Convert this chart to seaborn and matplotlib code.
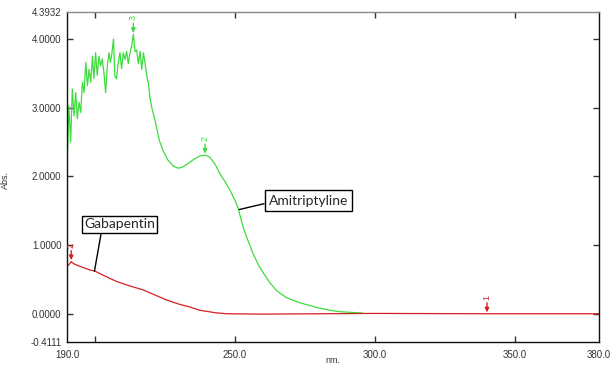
import matplotlib
matplotlib.use("Agg")
import matplotlib.pyplot as plt
import seaborn as sns
import pandas as pd
from matplotlib.ticker import FixedLocator, NullFormatter, FixedFormatter

# ---------------- data ----------------
ami_nm = [190.0, 190.1, 190.7, 191.3, 191.9, 192.5, 193.1, 193.7, 194.3, 194.9,
          195.5, 196.1, 196.7, 197.3, 197.9, 198.5, 199.1, 199.6, 200.2, 200.8,
          201.4, 202.0, 202.6, 203.2, 203.8, 204.4, 205.0, 205.5, 206.0, 206.6,
          207.1, 207.7, 208.3, 208.9, 209.5, 210.1, 210.7, 211.3, 211.9, 212.5,
          213.1, 213.7, 214.3, 214.9, 215.5, 216.1, 216.7, 217.3, 217.9, 218.5,
          219.1, 219.6, 220.3, 221.4, 223.0, 224.5, 226.0, 228.0, 229.6,
          231.0, 233.0, 235.0, 237.5, 239.5, 241.0, 243.0, 244.6, 246.5, 248.2,
          250.0, 251.1, 252.9, 254.5, 256.4, 258.5, 260.5, 262.5, 265.0, 268.6,
          273.2, 279.3, 284.0, 287.5, 291.5, 295.7]
ami_abs = [3.39, 2.26, 3.03, 2.50, 3.27, 2.88, 3.22, 2.84, 3.08, 2.93,
           3.37, 3.22, 3.66, 3.32, 3.56, 3.37, 3.75, 3.42, 3.80, 3.47,
           3.75, 3.61, 3.71, 3.51, 3.22, 3.61, 3.80, 3.66, 3.78, 4.00,
           3.46, 3.42, 3.66, 3.80, 3.57, 3.80, 3.70, 3.82, 3.64, 3.80,
           3.90, 4.07, 3.82, 3.84, 3.64, 3.82, 3.56, 3.80, 3.64, 3.46,
           3.35, 3.15, 3.00, 2.82, 2.52, 2.36, 2.24, 2.15, 2.12,
           2.13, 2.18, 2.24, 2.30, 2.31, 2.28, 2.17, 2.04, 1.92, 1.80,
           1.65, 1.54, 1.26, 1.08, 0.88, 0.70, 0.57, 0.45, 0.33, 0.23,
           0.16, 0.09, 0.05, 0.03, 0.02, 0.01]

gaba_nm = [190.0, 190.8, 191.5, 192.3, 194.0, 196.0, 198.0, 200.0, 204.0, 207.7,
           212.0, 217.0, 221.0, 225.6, 230.0, 234.0, 237.5, 240.0, 243.0, 247.0,
           260.0, 280.0, 300.0, 340.0, 380.0]
gaba_abs = [0.69, 0.72, 0.76, 0.73, 0.70, 0.67, 0.64, 0.62, 0.54, 0.47,
            0.41, 0.35, 0.28, 0.20, 0.14, 0.097, 0.05, 0.034, 0.015, 0.0,
            -0.005, 0.0, 0.005, 0.0, 0.0]

# peak picks (wavelength, absorbance, label, series)
peak_nm = [213.7, 239.3, 191.5, 340.0]
peak_abs = [4.07, 2.31, 0.76, 0.0]
peak_lbl = ["3", "2", "2", "1"]
peak_series = ["Amitriptyline", "Amitriptyline", "Gabapentin", "Gabapentin"]

x_tick_marks = [200, 250, 300, 350]
x_tick_labels = [190.0, 250.0, 300.0, 350.0, 380.0]
y_tick_marks = [0, 1, 2, 3, 4]
y_label_vals = [-0.4111, 0.0, 1.0, 2.0, 3.0, 4.0, 4.3932]

xmin, xmax = 190.0, 380.0
ymin, ymax = -0.4111, 4.3932

colors = {"Amitriptyline": "#3ddc3d", "Gabapentin": "#d42020"}

df = pd.concat([
    pd.DataFrame({"nm": ami_nm, "abs": ami_abs, "series": "Amitriptyline"}),
    pd.DataFrame({"nm": gaba_nm, "abs": gaba_abs, "series": "Gabapentin"}),
])

# ---------------- plot ----------------
sns.set_style("white")
plt.rcParams["font.family"] = ["Liberation Sans", "DejaVu Sans"]

fig = plt.figure(figsize=(6.16, 3.68), dpi=100)
ax = fig.add_axes([67 / 616, 26 / 368, 532 / 616, 330 / 368])

sns.lineplot(data=df, x="nm", y="abs", hue="series", palette=colors,
             sort=False, estimator=None, linewidth=0.9, ax=ax, legend=False)

ax.set_xlim(xmin, xmax)
ax.set_ylim(ymin, ymax)

# spines
for s in ["left", "bottom", "right"]:
    ax.spines[s].set_color("#111111")
    ax.spines[s].set_linewidth(1.0)
ax.spines["top"].set_color("#888888")
ax.spines["top"].set_linewidth(1.0)

ax.xaxis.remove_overlapping_locs = False
ax.yaxis.remove_overlapping_locs = False

# x ticks: marks at 200..350 (top & bottom), labels at 190,250,...,380
ax.xaxis.set_major_locator(FixedLocator(x_tick_marks))
ax.xaxis.set_major_formatter(NullFormatter())
ax.xaxis.set_minor_locator(FixedLocator(x_tick_labels))
ax.xaxis.set_minor_formatter(FixedFormatter([f"{v:.1f}" for v in x_tick_labels]))
ax.tick_params(axis="x", which="major", direction="in", length=4, width=1,
               top=True, bottom=True, color="#333333")
ax.tick_params(axis="x", which="minor", length=0, pad=6, labelsize=7,
               labelcolor="#333333")

# y ticks
ax.yaxis.set_major_locator(FixedLocator(y_tick_marks))
ax.yaxis.set_major_formatter(NullFormatter())
ax.yaxis.set_minor_locator(FixedLocator(y_label_vals))
ax.yaxis.set_minor_formatter(FixedFormatter([f"{v:.4f}" for v in y_label_vals]))
ax.tick_params(axis="y", which="major", direction="in", length=4, width=1,
               left=True, right=True, color="#333333")
ax.tick_params(axis="y", which="minor", length=0, pad=4, labelsize=7,
               labelcolor="#333333")

ax.set_xlabel("nm.", fontsize=6.5, color="#333333")
ax.set_ylabel("Abs.", fontsize=6.5, color="#333333")
ax.xaxis.set_label_coords(0.5, -0.042)
ax.yaxis.set_label_coords(-0.108, 0.49)

# peak picks
for px, py, lb, sr in zip(peak_nm, peak_abs, peak_lbl, peak_series):
    c = colors[sr]
    ax.annotate("", xy=(px, py + 0.02), xytext=(px, py + 0.16),
                arrowprops=dict(arrowstyle="-|>,head_length=0.25,head_width=0.12",
                                color=c, lw=1.0, shrinkA=0, shrinkB=0))
    ax.text(px, py + 0.2, lb, color=c, fontsize=6.5, rotation=90,
            ha="center", va="bottom")

# callout labels
box = dict(boxstyle="square,pad=0.15", fc="white", ec="black", lw=1.0)
ax.annotate("Gabapentin", xy=(199.8, 0.62), xytext=(208.7, 1.30),
            fontsize=10, family=["Lato", "DejaVu Sans"], ha="center", va="center",
            bbox=box,
            arrowprops=dict(arrowstyle="-", color="black", lw=1.0,
                            relpos=(0.25, 0.0), shrinkA=0, shrinkB=0))
box2 = dict(boxstyle="square,pad=0.3", fc="white", ec="black", lw=1.0)
ax.annotate("Amitriptyline", xy=(251.5, 1.517), xytext=(276.2, 1.648),
            fontsize=10, family=["Lato", "DejaVu Sans"], ha="center", va="center",
            bbox=box2,
            arrowprops=dict(arrowstyle="-", color="black", lw=1.0,
                            relpos=(0.0, 0.33), shrinkA=0, shrinkB=0))

fig.savefig("out.png", dpi=100)
